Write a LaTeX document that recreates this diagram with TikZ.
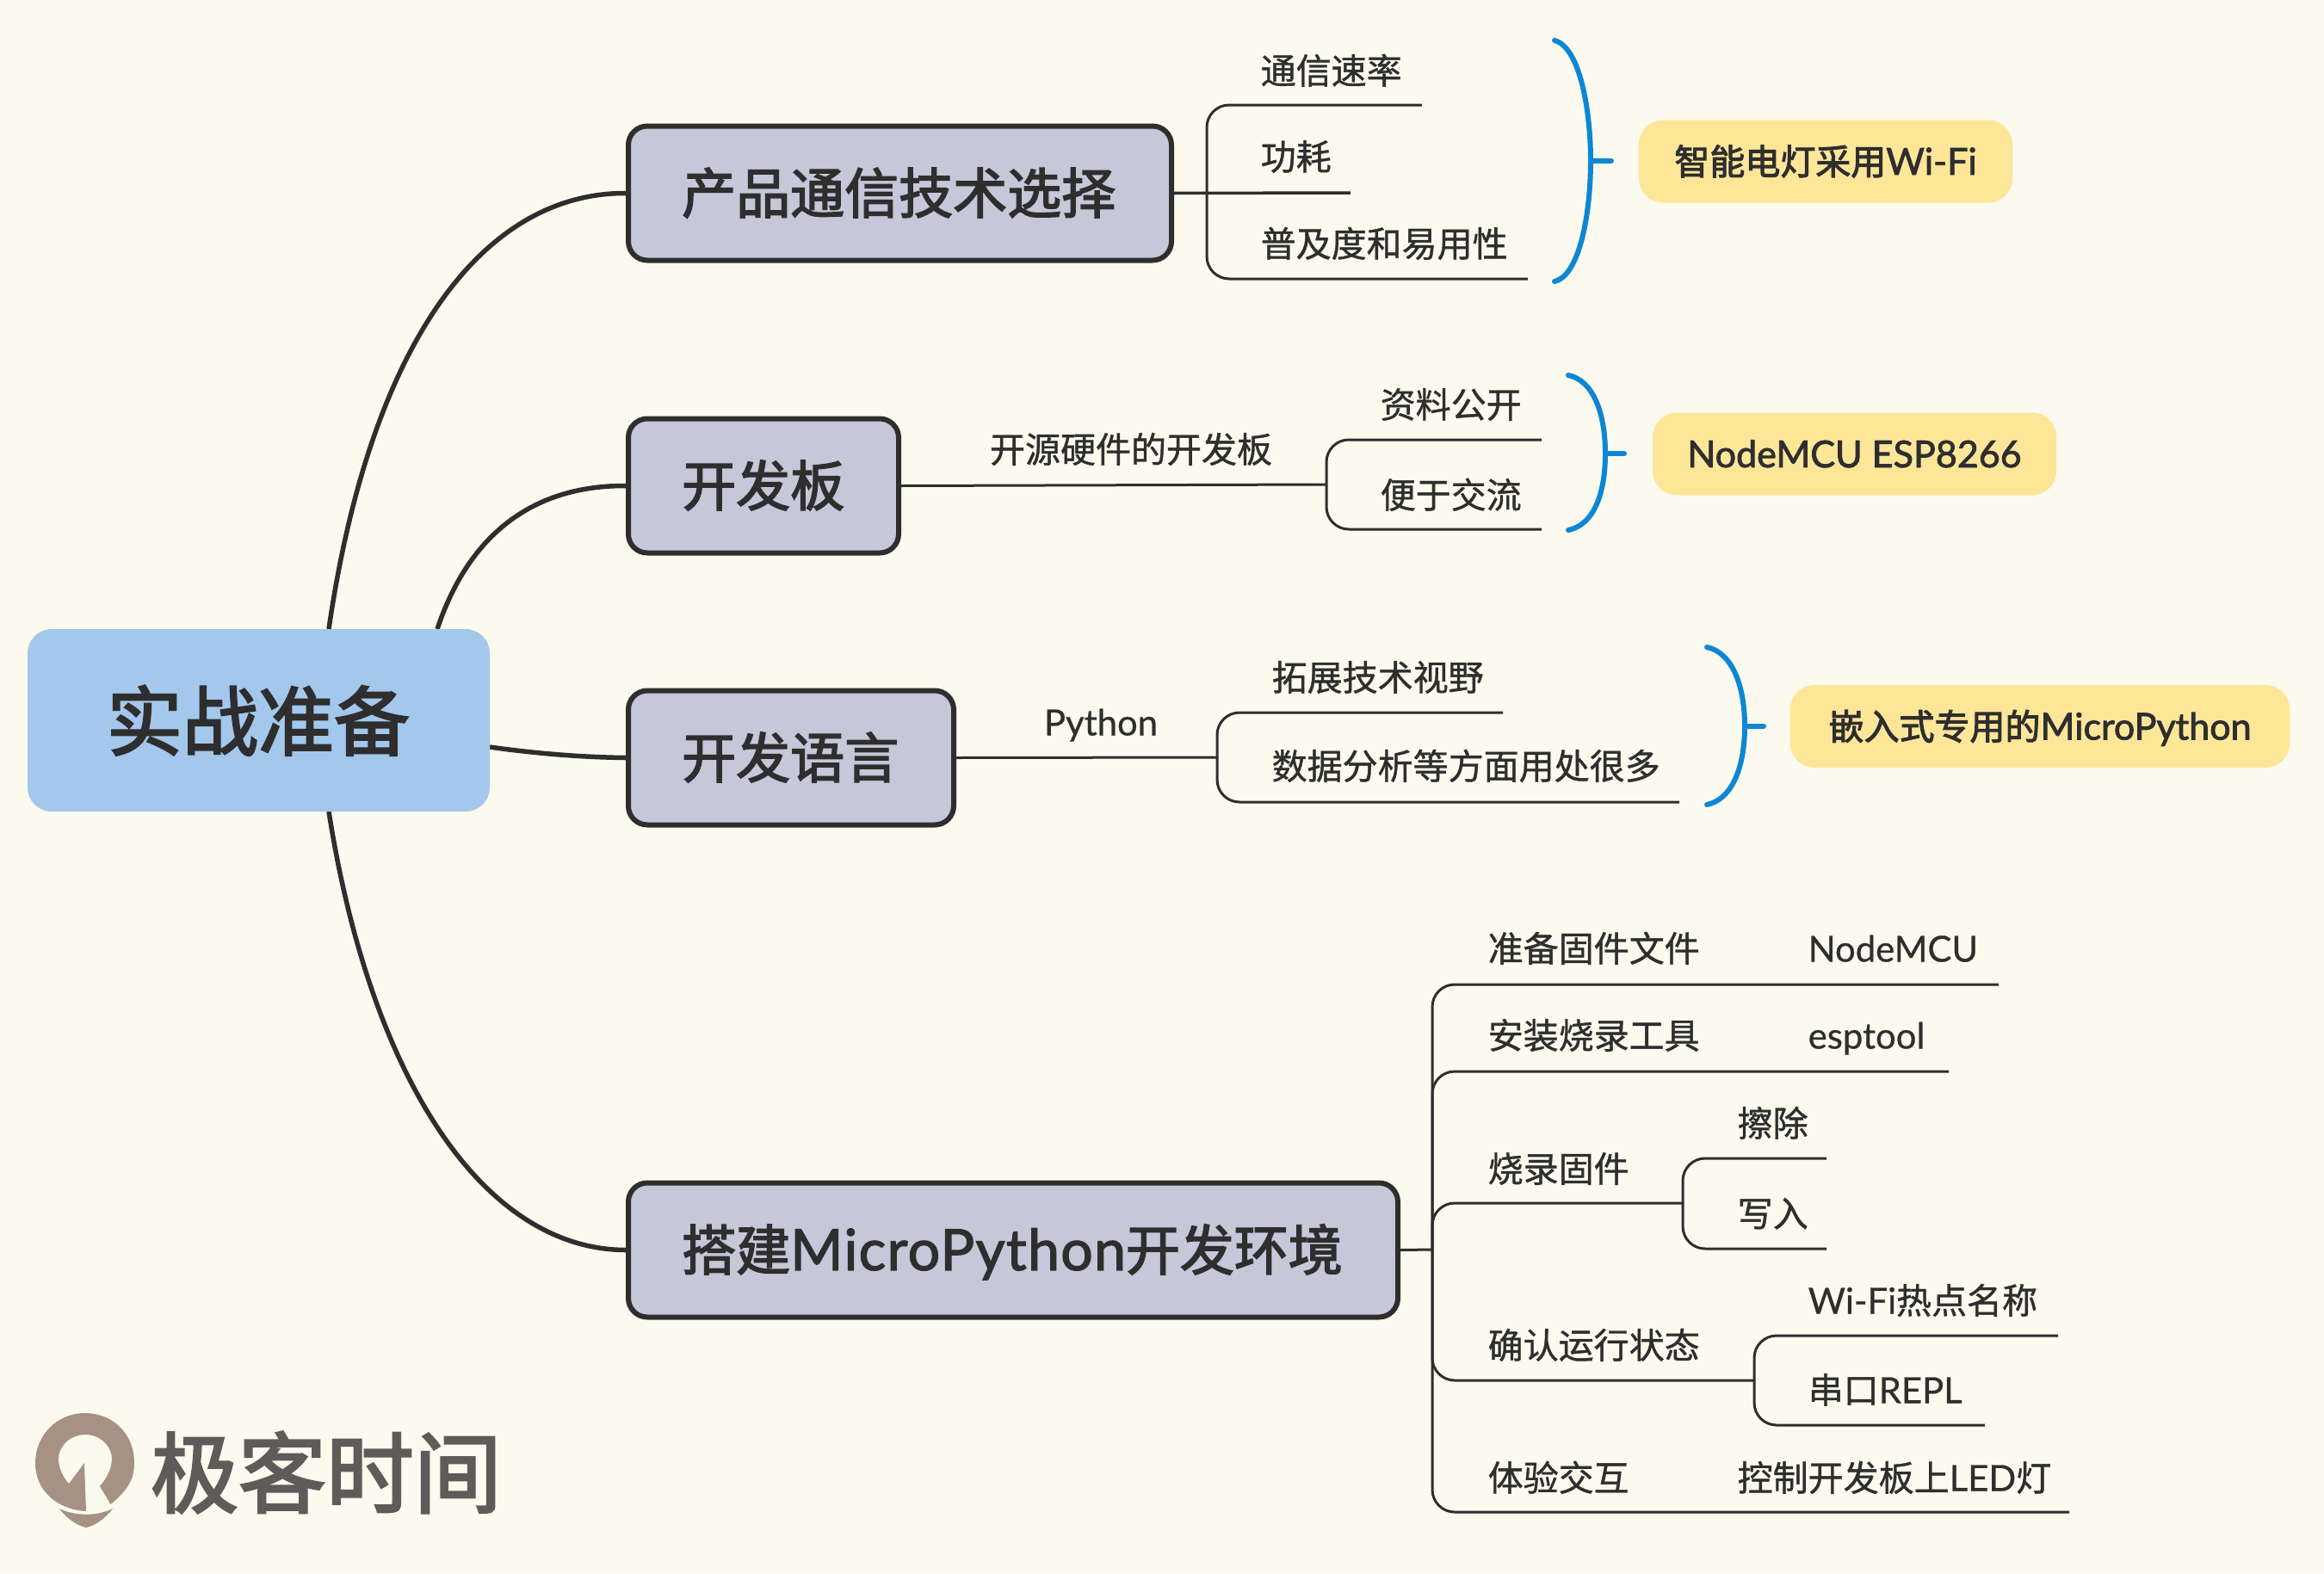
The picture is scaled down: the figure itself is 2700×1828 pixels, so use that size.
\documentclass[tikz,border=0pt]{standalone}
\usepackage{fontspec}
\setmainfont{Noto Sans CJK SC}[FakeBold=1.0]
\newfontfamily\med{Noto Sans CJK SC}[FakeBold=2.6]
\newfontfamily\lat{Lato}[FakeBold=0.6,Scale=1.02]
\newfontfamily\latb{Lato}[FakeBold=2.0,Scale=1.05]
\newfontfamily\latm{Lato}[FakeBold=2.0,Scale=1.05,LetterSpace=2]
\definecolor{bgc}{HTML}{FCFAEE}
\definecolor{ink}{HTML}{2E2E2E}
\definecolor{rootc}{HTML}{A4C7EC}
\definecolor{mainc}{HTML}{C6C7D9}
\definecolor{noteC}{HTML}{FEE699}
\definecolor{braceC}{HTML}{0D87D4}
\definecolor{logoC}{HTML}{A69283}
\definecolor{logoT}{HTML}{5E5C5A}
\newcommand{\la}[1]{{\lat #1}}
\newcommand{\lb}[1]{{\latb #1}}
\newcommand{\lm}[1]{{\latm #1}}
\tikzset{
  txt/.style={inner sep=0pt,text=ink},
  leaf/.style={txt,anchor=west,xshift=-1.5pt,text height=36pt,text depth=5pt,font=\fontsize{41}{41}\selectfont},
  midlabel/.style={txt,anchor=center,text height=36pt,text depth=5pt,font=\fontsize{41}{41}\selectfont},
  rootbox/.style={rectangle,rounded corners=28pt,fill=rootc,minimum width=537pt,minimum height=212pt,inner sep=0pt},
  mainbox/.style={rectangle,rounded corners=22pt,draw=ink,line width=6pt,fill=mainc,inner sep=0pt,minimum height=156pt},
  notebox/.style={rectangle,rounded corners=28pt,fill=noteC,inner sep=0pt,minimum height=96pt},
  maintext/.style={txt,anchor=west,text height=55.4pt,text depth=7.6pt,font=\fontsize{63}{63}\selectfont\med},
  notetext/.style={txt,anchor=center,text height=36pt,text depth=5pt,font=\fontsize{41}{41}\selectfont\med},
  big/.style={line width=5.5pt,draw=ink},
  thinl/.style={line width=3pt,draw=ink,rounded corners=26pt},
  plainl/.style={line width=3pt,draw=ink},
  brace/.style={line width=6pt,draw=braceC,line cap=round},
}
\begin{document}
\begin{tikzpicture}[x=1pt,y=-1pt]
\fill[bgc] (0,0) rectangle (2700,1828);
\useasboundingbox (0,0) rectangle (2700,1828);

% main connectors (drawn under the boxes)
\coordinate (r1) at (382,731);
\coordinate (r2) at (508,731);
\coordinate (r3) at (569,868);
\coordinate (r4) at (382,943);
\node[mainbox,minimum width=631pt] (n1) at (1045.5,224.5) {};
\node[mainbox,minimum width=314pt] (n2) at (887,564.5) {};
\node[mainbox,minimum width=378pt] (n3) at (919,880.5) {};
\node[mainbox,minimum width=894pt] (n4) at (1177,1452.5) {};
\draw[big] (r1) .. controls (430,400) and (560,224) .. (n1.west);
\draw[big] (r2) .. controls (545,620) and (620,564) .. (n2.west);
\draw[big] (r3) .. controls (625,876) and (680,880) .. (n3.west);
\draw[big] (r4) .. controls (430,1250) and (560,1452) .. (n4.west);
\node[rootbox] (root) at (300.5,837) {};
\node[txt,anchor=center,text height=77pt,text depth=11pt,font=\fontsize{88}{88}\selectfont\med] (roottext) at (300,838) {实战准备};

\node[maintext] (t1) at (792,224) {产品通信技术选择};
\node[maintext] (t2) at (792,564) {开发板};
\node[maintext] (t3) at (792,880) {开发语言};
\node[maintext] (t4) at (792,1452) {搭建\lm{MicroPython}开发环境};

% branch 1
\coordinate (a0) at (1402,224);
\coordinate (a1) at (1652,122);
\coordinate (a2) at (1569,224);
\coordinate (a3) at (1775,324);
\draw[line width=3.5pt,draw=ink] (n1.east) -- (a2);
\draw[thinl] (a0) |- (a1);
\draw[thinl] (a0) |- (a3);
\node[leaf] (a1t) at (1466,82) {通信速率};
\node[leaf] (a2t) at (1466,182) {功耗};
\node[leaf] (a3t) at (1466,283) {普及度和易用性};
\coordinate (b1a) at (1806,47);
\coordinate (b1m) at (1848,187);
\coordinate (b1b) at (1806,327);
\coordinate (b1s) at (1872,187);
\draw[brace] (b1a) .. controls (1836,55) and (1848,130) .. (b1m) .. controls (1848,245) and (1836,320) .. (b1b);
\draw[brace] (b1m) -- (b1s);
\node[notebox,minimum width=434pt] (y1) at (2121,187.5) {};
\node[notetext] (y1t) at (y1.center) {智能电灯采用\lb{Wi-Fi}};

% branch 2
\coordinate (c0) at (1541,563);
\coordinate (c1) at (1791,511);
\coordinate (c2) at (1791,615);
\draw[plainl] (n2.east) -- (c0);
\draw[thinl] (c0) |- (c1);
\draw[thinl] (c0) |- (c2);
\node[midlabel] (c0t) at (1314,522) {开源硬件的开发板};
\node[leaf] (c1t) at (1605,470) {资料公开};
\node[leaf] (c2t) at (1605,575) {便于交流};
\coordinate (b2a) at (1822,436);
\coordinate (b2m) at (1865,527);
\coordinate (b2b) at (1822,616);
\coordinate (b2s) at (1887,527);
\draw[brace] (b2a) .. controls (1851,442) and (1865,480) .. (b2m) .. controls (1865,575) and (1851,610) .. (b2b);
\draw[brace] (b2m) -- (b2s);
\node[notebox,minimum width=469pt] (y2) at (2154.5,527.5) {};
\node[notetext] (y2t) at (y2.center) {\lb{NodeMCU ESP8266}};

% branch 3
\coordinate (d0) at (1414,880);
\coordinate (d1) at (1746,828);
\coordinate (d2) at (1951,932);
\draw[plainl] (n3.east) -- (d0);
\draw[thinl] (d0) |- (d1);
\draw[thinl] (d0) |- (d2);
\node[midlabel] (d0t) at (1279,839) {\la{Python}};
\node[leaf] (d1t) at (1479,787) {拓展技术视野};
\node[leaf] (d2t) at (1479,890) {数据分析等方面用处很多};
\coordinate (b3a) at (1983,752);
\coordinate (b3m) at (2027,844);
\coordinate (b3b) at (1983,935);
\coordinate (b3s) at (2049,844);
\draw[brace] (b3a) .. controls (2012,758) and (2027,796) .. (b3m) .. controls (2027,892) and (2012,929) .. (b3b);
\draw[brace] (b3m) -- (b3s);
\node[notebox,minimum width=580pt] (y3) at (2370,844) {};
\node[notetext] (y3t) at (y3.center) {嵌入式专用的\lb{MicroPython}};

% branch 4
\coordinate (e0) at (1664,1452);
\coordinate (e1) at (2322,1144);
\coordinate (e2) at (2264,1245);
\coordinate (e3) at (1955,1398);
\coordinate (e4) at (2038,1604);
\coordinate (e5) at (2404,1757);
\draw[plainl] (n4.east) -- (e0);
\draw[thinl] (e0) |- (e1);
\draw[thinl] (e0) |- (e2);
\draw[thinl] (e0) |- (e3);
\draw[thinl] (e0) |- (e4);
\draw[thinl] (e0) |- (e5);
\coordinate (f1) at (2122,1346);
\coordinate (f2) at (2122,1451);
\draw[thinl] (e3) |- (f1);
\draw[thinl] (e3) |- (f2);
\coordinate (g1) at (2391,1552);
\coordinate (g2) at (2306,1656);
\draw[thinl] (e4) |- (g1);
\draw[thinl] (e4) |- (g2);
\node[leaf] (e1t) at (1730,1102) {准备固件文件};
\node[leaf] (e2t) at (1730,1203) {安装烧录工具};
\node[leaf] (e3t) at (1730,1358) {烧录固件};
\node[leaf] (e4t) at (1730,1563) {确认运行状态};
\node[leaf] (e5t) at (1730,1717) {体验交互};
\node[leaf] (e1r) at (2102,1102) {\la{NodeMCU}};
\node[leaf] (e2r) at (2102,1203) {\la{esptool}};
\node[leaf] (f1t) at (2020,1305) {擦除};
\node[leaf] (f2t) at (2020,1410) {写入};
\node[leaf] (g1t) at (2102,1511) {\la{Wi-Fi}热点名称};
\node[leaf] (g2t) at (2102,1615) {串口\la{REPL}};
\node[leaf] (e5r) at (2020,1717) {控制开发板上\la{LED}灯};

% logo
\fill[logoC] (128.5,1748) .. controls (147,1733) and (156,1720) .. (156,1700)
  .. controls (156,1665) and (130,1642) .. (99,1642)
  .. controls (66,1642) and (41,1668) .. (41,1700)
  .. controls (41,1732) and (66,1754) .. (100,1756)
  -- (98,1700) -- (80,1724)
  .. controls (73,1716) and (68,1706) .. (68,1695)
  .. controls (68,1680) and (82,1667) .. (99,1667)
  .. controls (116,1667) and (130,1680) .. (130,1695)
  .. controls (130,1708) and (122,1720) .. (116,1727) -- cycle;
\fill[logoC] (69,1753) .. controls (88,1762) and (112,1762) .. (131,1753)
  .. controls (122,1765) and (110,1773) .. (100,1775)
  .. controls (90,1773) and (78,1765) .. (69,1753) -- cycle;
\node[inner sep=0pt,anchor=center,text=logoT,text height=90pt,text depth=12pt,font=\fontsize{102}{102}\selectfont\med] (logo) at (379,1711) {极客时间};
\end{tikzpicture}
\end{document}
